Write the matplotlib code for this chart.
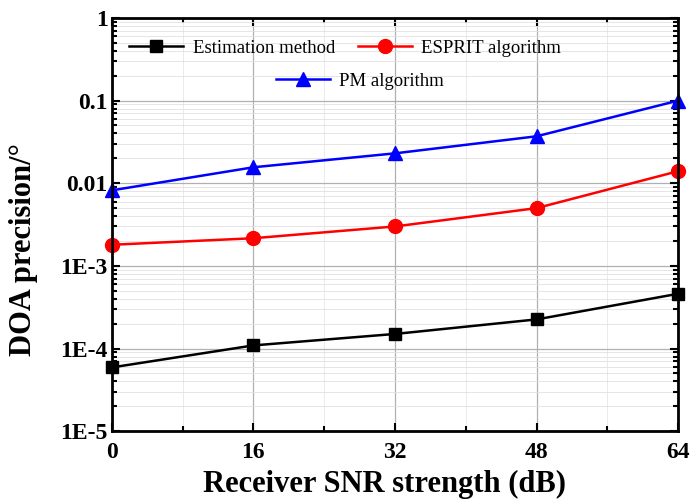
import matplotlib
matplotlib.use('Agg')
import matplotlib.pyplot as plt
from matplotlib.ticker import FixedLocator, LogLocator, NullFormatter, FixedFormatter

snr = [0, 16, 32, 48, 64]
estimation = [5.9e-5, 1.09e-4, 1.5e-4, 2.25e-4, 4.6e-4]
esprit = [0.0018, 0.00216, 0.0030, 0.0050, 0.014]
pm = [0.0082, 0.0156, 0.023, 0.037, 0.10]

y_ticks = [1e-5, 1e-4, 1e-3, 1e-2, 1e-1, 1]
y_labels = ['1E-5', '1E-4', '1E-3', '0.01', '0.1', '1']

plt.rcParams['font.family'] = ['Liberation Serif', 'DejaVu Serif']

fig = plt.figure(figsize=(6.9, 4.99), dpi=100)
ax = fig.add_axes([0.162, 0.136, 0.821, 0.828])

l1, = ax.plot(snr, estimation, color='black', marker='s', markersize=9, lw=1.8, label='Estimation method')
l2, = ax.plot(snr, esprit, color='red', marker='o', markersize=10, lw=1.8, label='ESPRIT algorithm')
l3, = ax.plot(snr, pm, color='blue', marker='^', markersize=10, lw=1.8, label='PM algorithm')
for l in (l1, l2, l3):
    l.set_clip_on(False)

ax.set_yscale('log')
ax.set_xlim(0, 64)
ax.set_ylim(1e-5, 1)
ax.set_xticks(snr)
ax.xaxis.set_minor_locator(FixedLocator([8, 24, 40, 56]))
ax.yaxis.set_major_locator(FixedLocator(y_ticks))
ax.yaxis.set_major_formatter(FixedFormatter(y_labels))
ax.yaxis.set_minor_locator(LogLocator(base=10, subs=range(2, 10)))
ax.yaxis.set_minor_formatter(NullFormatter())

ax.grid(which='major', color='#b0b0b0', lw=0.9)
ax.grid(which='minor', axis='y', color='#e0e0e0', lw=0.6)
ax.grid(which='minor', axis='x', color='#e6e6e6', lw=0.6)

ax.tick_params(which='both', direction='in', top=True, right=True, width=1.5)
ax.tick_params(which='major', length=6, labelsize=17, pad=3)
ax.tick_params(axis='x', which='major', pad=8)
ax.tick_params(which='minor', length=3.5)
for lab in ax.get_xticklabels() + ax.get_yticklabels():
    lab.set_fontweight('bold')
for s in ax.spines.values():
    s.set_linewidth(2)

ax.set_xlabel('Receiver SNR strength (dB)', fontsize=22, fontweight='bold')
ax.set_ylabel('DOA precision/°', fontsize=22, fontweight='bold')
ax.xaxis.set_label_coords(0.482, -0.093)
ax.yaxis.set_label_coords(-0.13, 0.44)

leg1 = ax.legend(handles=[l1, l2], ncol=2, loc='center', bbox_to_anchor=(0.412, 0.927),
                 frameon=False, fontsize=13.5, handlelength=2.9, columnspacing=1.2, handletextpad=0.5)
ax.add_artist(leg1)
ax.legend(handles=[l3], loc='center', bbox_to_anchor=(0.438, 0.847),
          frameon=False, fontsize=13.5, handlelength=2.9, handletextpad=0.5)

fig.savefig('out.png', dpi=100)
